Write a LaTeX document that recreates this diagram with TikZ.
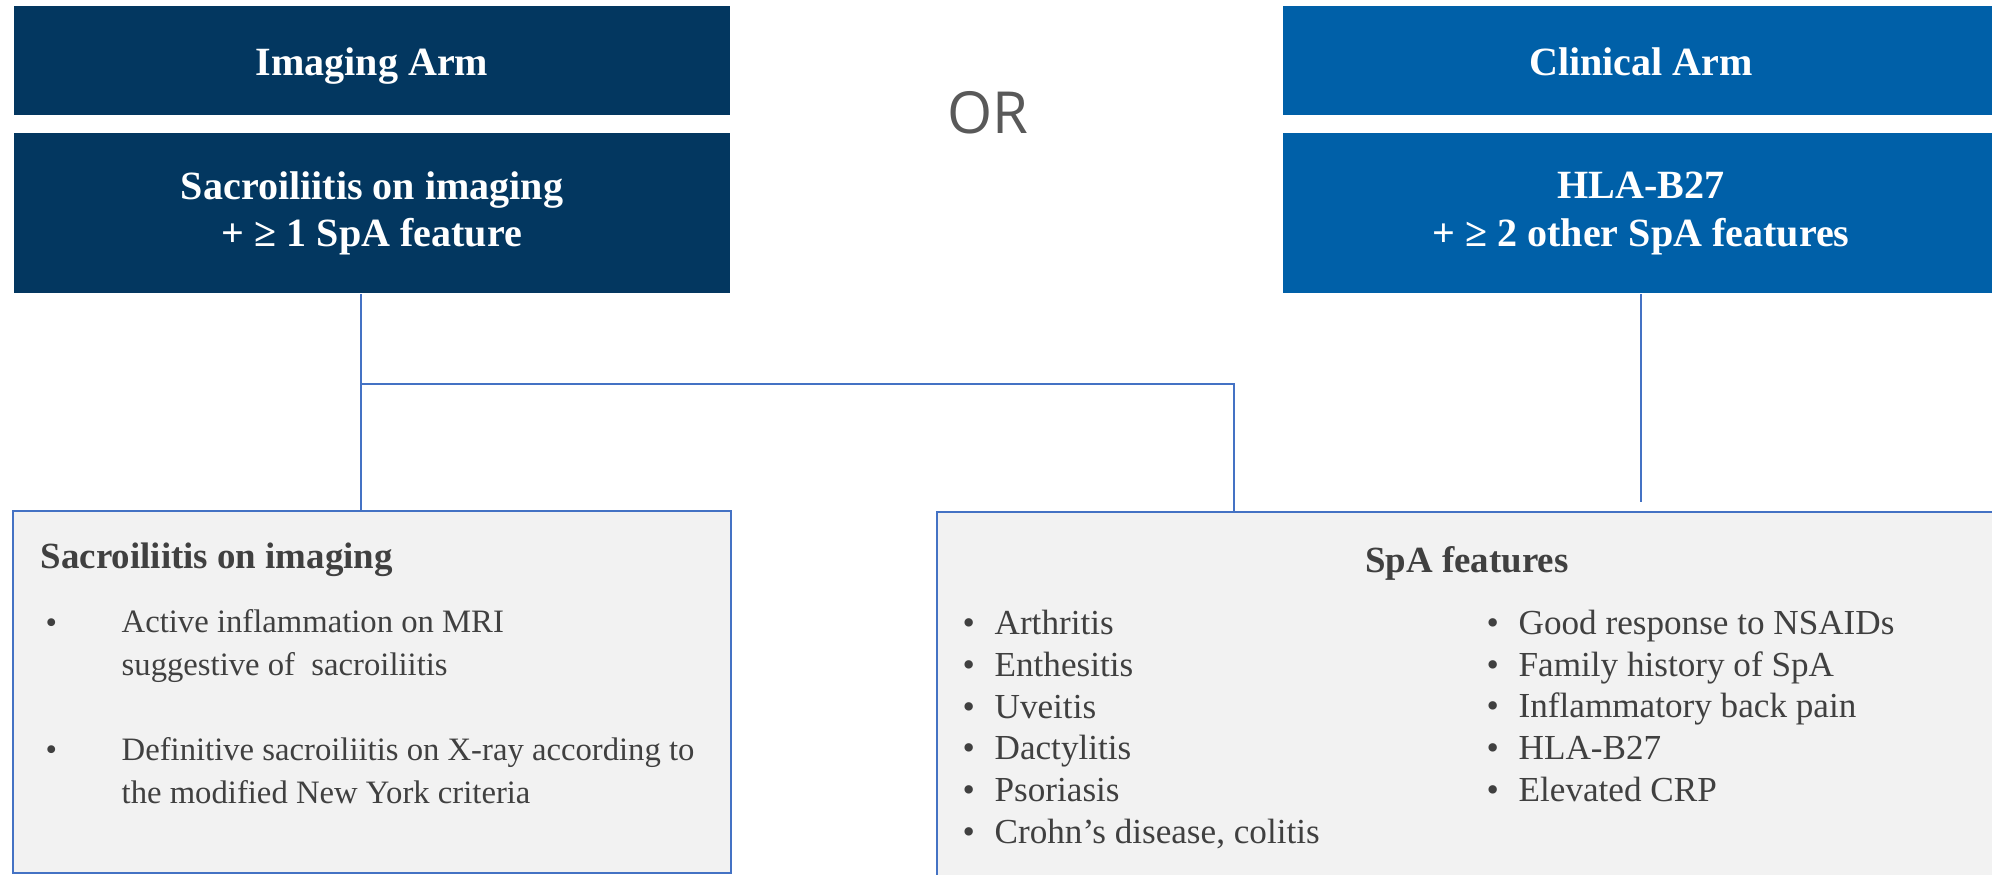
\documentclass[tikz,border=0pt]{standalone}
\usepackage{fontspec}
\setmainfont{Liberation Serif}
\newfontfamily\orfont{Open Sans}
\usetikzlibrary{positioning}
\definecolor{imagingblue}{RGB}{3,55,96}
\definecolor{clinicalblue}{RGB}{0,96,168}
\definecolor{linkblue}{RGB}{68,114,196}
\definecolor{panelgray}{RGB}{242,242,242}
\definecolor{textgray}{RGB}{64,64,64}
\definecolor{orgray}{RGB}{89,89,89}
\tikzset{
  armbox/.style={fill=#1, text=white, inner sep=0pt, minimum width=7.16cm,
    align=center, font=\bfseries\fontsize{11.4}{13.6}\selectfont},
  armtitle/.style={armbox=#1, minimum height=1.09cm, text height=0.30cm, text depth=0cm},
  panel/.style={draw=linkblue, line width=0.6pt, fill=panelgray, inner sep=0pt},
  link/.style={draw=linkblue, line width=0.7pt},
  paneltitle/.style={text=textgray, inner sep=0pt, font=\bfseries\fontsize{10.5}{12}\selectfont},
  bodytext/.style={text=textgray, inner sep=0pt, align=left, font=\fontsize{10}{11.84}\selectfont},
  sactext/.style={bodytext, font=\fontsize{9.3}{12.1}\selectfont}
}
\begin{document}
\begin{tikzpicture}
    \useasboundingbox (0,0) rectangle (19.92,-8.75);

    % Arm boxes
    \node[armtitle=imagingblue] (imgarm) at (3.72,-0.605) {Imaging Arm};
    \node[armbox=imagingblue, minimum height=1.60cm, below=0.17cm of imgarm] (imgcrit)
        {Sacroiliitis on imaging\\+ ≥ 1 SpA feature};
    \node[armtitle=clinicalblue] (clinarm) at (16.41,-0.605) {Clinical Arm};
    \node[armbox=clinicalblue, minimum height=1.60cm, below=0.17cm of clinarm] (clincrit)
        {HLA-B27\\+ ≥ 2 other SpA features};
    \node[text=orgray, inner sep=0pt, font=\orfont\fontsize{16.5}{16.5}\selectfont] (or) at (9.88,-1.13) {OR};

    % Bottom panels
    \node[panel, minimum width=7.18cm, minimum height=3.62cm] (sacpanel) at (3.72,-6.92) {};
    \node[panel, minimum width=10.60cm, minimum height=3.90cm] (spapanel) at (14.67,-7.07) {};

    % Connectors
    \coordinate (junction) at (3.61,-3.84);
    \coordinate (clinend) at (16.41,-5.02);
    \draw[link] ([xshift=-0.11cm]imgcrit.south) -- ([xshift=-0.11cm]sacpanel.north);
    \draw[link] (junction) -| ([xshift=-2.33cm]spapanel.north);
    \draw[link] (clincrit.south) -- (clinend);

    % Sacroiliitis panel text (base = last line)
    \node[paneltitle, anchor=base west] (sactitle) at (0.40,-5.68) {Sacroiliitis on imaging};
    \node[sactext, anchor=base west] (mribullet) at (0.45,-6.33) {•};
    \node[sactext, anchor=base west] (mritext) at (1.21,-6.75)
        {Active inflammation on MRI\\suggestive of\ \ sacroiliitis};
    \node[sactext, anchor=base west] (xraybullet) at (0.45,-7.60) {•};
    \node[sactext, anchor=base west] (xraytext) at (1.21,-8.03)
        {Definitive sacroiliitis on X-ray according to\\the modified New York criteria};

    % SpA features panel text (base = last line)
    \node[paneltitle, anchor=base] (spatitle) at (14.67,-5.72) {SpA features};
    \node[bodytext, anchor=base west] (spaleft) at (9.62,-8.43)
        {\makebox[0.91em][l]{•}Arthritis\\\makebox[0.91em][l]{•}Enthesitis\\
         \makebox[0.91em][l]{•}Uveitis\\\makebox[0.91em][l]{•}Dactylitis\\
         \makebox[0.91em][l]{•}Psoriasis\\\makebox[0.91em][l]{•}Crohn’s disease, colitis};
    \node[bodytext, anchor=base west] (sparight) at (14.86,-8.01)
        {\makebox[0.91em][l]{•}Good response to NSAIDs\\\makebox[0.91em][l]{•}Family history of SpA\\
         \makebox[0.91em][l]{•}Inflammatory back pain\\\makebox[0.91em][l]{•}HLA-B27\\
         \makebox[0.91em][l]{•}Elevated CRP};
\end{tikzpicture}
\end{document}
